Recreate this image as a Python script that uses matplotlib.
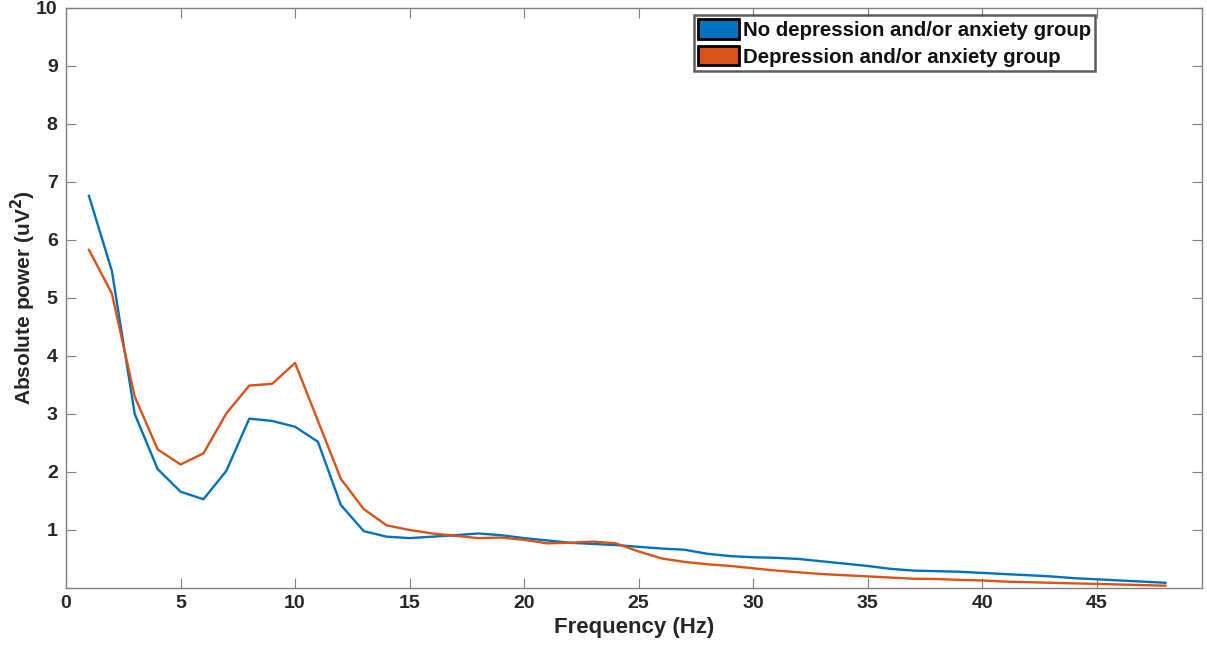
import numpy as np
import matplotlib
matplotlib.use("Agg")
import matplotlib.pyplot as plt
from matplotlib.patches import Patch

plt.rcParams['font.family'] = ['Liberation Sans', 'DejaVu Sans']

# frequency bins (Hz)
freq = np.arange(1, 49)

# absolute power, no depression/anxiety group
no_dep = [6.76, 5.47, 3.00, 2.05, 1.66, 1.53, 2.02, 2.92, 2.88, 2.78,
          2.52, 1.43, 0.98, 0.885, 0.86, 0.885, 0.91, 0.94, 0.91, 0.86,
          0.82, 0.78, 0.76, 0.74, 0.71, 0.68, 0.66, 0.59, 0.55, 0.53,
          0.52, 0.50, 0.46, 0.42, 0.38, 0.33, 0.30, 0.29, 0.28, 0.26,
          0.24, 0.22, 0.20, 0.17, 0.15, 0.13, 0.11, 0.09]

# absolute power, depression/anxiety group
dep = [5.83, 5.08, 3.30, 2.39, 2.13, 2.32, 3.01, 3.49, 3.52, 3.88,
       2.88, 1.88, 1.36, 1.08, 1.00, 0.94, 0.90, 0.86, 0.87, 0.83,
       0.77, 0.78, 0.80, 0.77, 0.63, 0.51, 0.45, 0.41, 0.38, 0.34,
       0.30, 0.27, 0.24, 0.22, 0.20, 0.18, 0.16, 0.155, 0.14, 0.13,
       0.11, 0.10, 0.09, 0.08, 0.07, 0.06, 0.05, 0.04]

labels = ['No depression and/or anxiety group', 'Depression and/or anxiety group']
colors = ['#0072BD', '#D95319']

fig = plt.figure(figsize=(12.07, 6.48), dpi=100)
ax = fig.add_axes([0.0547, 0.0926, 0.9412, 0.8951])

ax.plot(freq, no_dep, color=colors[0], lw=1.7)
ax.plot(freq, dep, color=colors[1], lw=1.7)

ax.set_xlim(0, 49.6)
ax.set_ylim(0, 10)
ax.set_xticks(np.arange(0, 50, 5))
ax.set_yticks(np.arange(1, 11, 1))

for s in ax.spines.values():
    s.set_color('#808080')
    s.set_linewidth(1.0)
ax.tick_params(direction='in', length=7, width=0.8, color='#808080',
               top=True, right=True, labelsize=14, labelcolor='#262626')
ax.tick_params(axis='y', pad=6)
ax.tick_params(axis='x', pad=5)
for t in ax.get_xticklabels() + ax.get_yticklabels():
    t.set_fontweight('bold')

ax.set_xlabel('Frequency (Hz)', fontsize=16, fontweight='bold', color='#262626', labelpad=4)
ax.set_ylabel('Absolute power (uV$^{\\mathbf{2}}$)', fontsize=15, fontweight='bold',
              color='#262626')
ax.yaxis.set_label_coords(-0.025, 0.5)

handles = [Patch(facecolor=c, edgecolor='black', lw=2) for c in colors]
leg = ax.legend(handles, labels, loc='upper left', bbox_to_anchor=(0.553, 0.988),
                prop={'weight': 'bold', 'size': 14.7}, frameon=True, fancybox=False,
                handlelength=2.0, handleheight=1.1, handletextpad=0.2,
                borderpad=0.2, labelspacing=0.3, borderaxespad=0)
leg.get_frame().set_edgecolor('#333333')
leg.get_frame().set_linewidth(1.8)
for t in leg.get_texts():
    t.set_color('#111111')

fig.savefig('out.png', dpi=100)
